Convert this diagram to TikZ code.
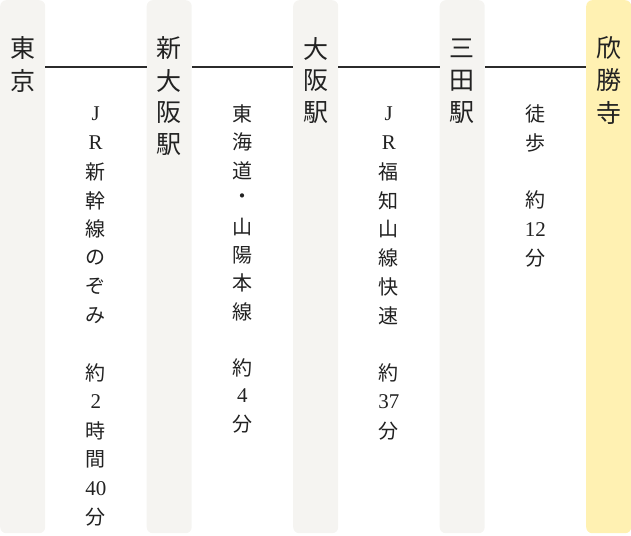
\documentclass[tikz,border=0pt]{standalone}
\usepackage{fontspec}
\newfontfamily\jp{Noto Sans CJK JP}
\newfontfamily\latn{Liberation Serif}
\definecolor{bargray}{HTML}{F5F4F1}
\definecolor{baryellow}{HTML}{FFF1B2}
\definecolor{linecol}{HTML}{2B2B2B}
\definecolor{textcol}{HTML}{222222}
\newcommand\lt[1]{{\latn\fontsize{21}{21}\selectfont #1}}
\begin{document}
\begin{tikzpicture}[x=1pt,y=-1pt,
  bar/.style={fill=bargray, rounded corners=6pt, minimum width=45pt, minimum height=533pt, inner sep=0pt, anchor=north west},
  station/.style={font=\jp\fontsize{25}{25}\selectfont, inner sep=0pt, text=textcol},
  route/.style={font=\jp\fontsize{20}{20}\selectfont, inner sep=0pt, text=textcol},
  link/.style={draw=linecol, line width=1.7pt}]
\useasboundingbox (0,0) rectangle (631,535);
\node[bar] (b1) at (0,0) {};
\node[bar] (b2) at (146.5,0) {};
\node[bar] (b3) at (293,0) {};
\node[bar] (b4) at (439.5,0) {};
\node[bar, fill=baryellow] (b5) at (586,0) {};
\coordinate (ly) at (0,67);
\foreach \a/\b in {b1/b2,b2/b3,b3/b4,b4/b5}
  \draw[link] (\a.east |- ly) -- (\b.west |- ly);
% station names
\foreach \c [count=\i from 0] in {東,京}
  \node[station] (s1-\i) at (22.5,48.5+32*\i) {\c};
\foreach \c [count=\i from 0] in {新,大,阪,駅}
  \node[station] (s2-\i) at (169,48.5+32*\i) {\c};
\foreach \c [count=\i from 0] in {大,阪,駅}
  \node[station] (s3-\i) at (315.5,48.5+32*\i) {\c};
\foreach \c [count=\i from 0] in {三,田,駅}
  \node[station] (s4-\i) at (462,48.5+32*\i) {\c};
\foreach \c [count=\i from 0] in {欣,勝,寺}
  \node[station] (s5-\i) at (608.5,48.5+32*\i) {\c};
% routes
\foreach \i/\c in {0/\lt{J},1/\lt{R},2/新,3/幹,4/線,5/の,6/ぞ,7/み,9/約,10/\lt{2},11/時,12/間,13/\lt{40},14/分}
  \node[route] (r1-\i) at (95.75,114+28.8*\i) {\c};
\foreach \i/\c in {0/東,1/海,2/道,3/・,4/山,5/陽,6/本,7/線,9/約,10/\lt{4},11/分}
  \node[route] (r2-\i) at (242.25,114+28.2*\i) {\c};
\foreach \i/\c in {0/\lt{J},1/\lt{R},2/福,3/知,4/山,5/線,6/快,7/速,9/約,10/\lt{37},11/分}
  \node[route] (r3-\i) at (388.75,114+28.8*\i) {\c};
\foreach \i/\c in {0/徒,1/歩,3/約,4/\lt{12},5/分}
  \node[route] (r4-\i) at (535.25,114+28.8*\i) {\c};
\end{tikzpicture}
\end{document}
